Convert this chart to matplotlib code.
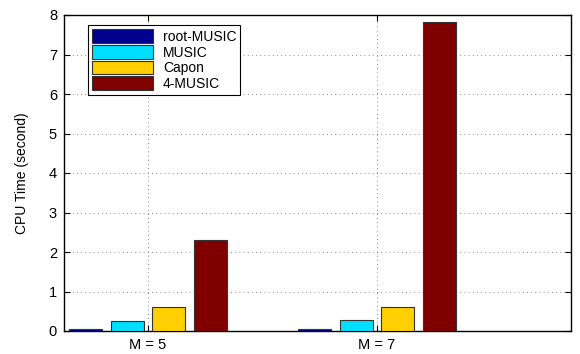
import numpy as np
import matplotlib.pyplot as plt

# CPU time per method, for each array size
groups = ["M = 5", "M = 7"]
methods = ["root-MUSIC", "MUSIC", "Capon", "4-MUSIC"]
root_music = [0.04, 0.04]
music = [0.25, 0.27]
capon = [0.61, 0.62]
music4 = [2.30, 7.82]
series = [root_music, music, capon, music4]
colors = ["#00008F", "#00DFFF", "#FFCF00", "#800000"]

plt.rcParams["font.family"] = ["Liberation Sans", "DejaVu Sans"]
plt.rcParams["font.size"] = 10

fig = plt.figure(figsize=(5.8, 3.54), dpi=100)
ax = fig.add_axes([64 / 580, 1 - 331 / 354, (571 - 64) / 580, (331 - 15) / 354])

x = np.arange(1, len(groups) + 1)
width = 0.145
step = 0.181
for i, (vals, c, name) in enumerate(zip(series, colors, methods)):
    ax.bar(x + (i - 1.5) * step, vals, width, color=c, edgecolor="#333333",
           linewidth=0.8, label=name, zorder=3)

ax.set_xlim(0.633, 2.847)
ax.set_ylim(0, 8)
ax.set_xticks(x)
ax.set_xticklabels(groups)
ax.set_yticks(range(0, 9))
ax.set_ylabel("CPU Time (second)", fontsize=10, labelpad=14)
ax.grid(True, linestyle=(0, (1, 4)), color="#666666", linewidth=0.6, zorder=0)
ax.tick_params(direction="in", top=True, right=True, length=4, width=0.8,
               labelsize=10.5, pad=5)
for s in ax.spines.values():
    s.set_linewidth(1.0)
    s.set_zorder(2)

leg = ax.legend(loc="upper left", bbox_to_anchor=(0.047, 0.968), borderaxespad=0,
                fancybox=False, framealpha=1, edgecolor="black", borderpad=0.3,
                handlelength=4.4, handleheight=1.15, labelspacing=0.08,
                handletextpad=0.7, fontsize=10)
leg.get_frame().set_linewidth(0.8)

fig.savefig("out.png", dpi=100)
